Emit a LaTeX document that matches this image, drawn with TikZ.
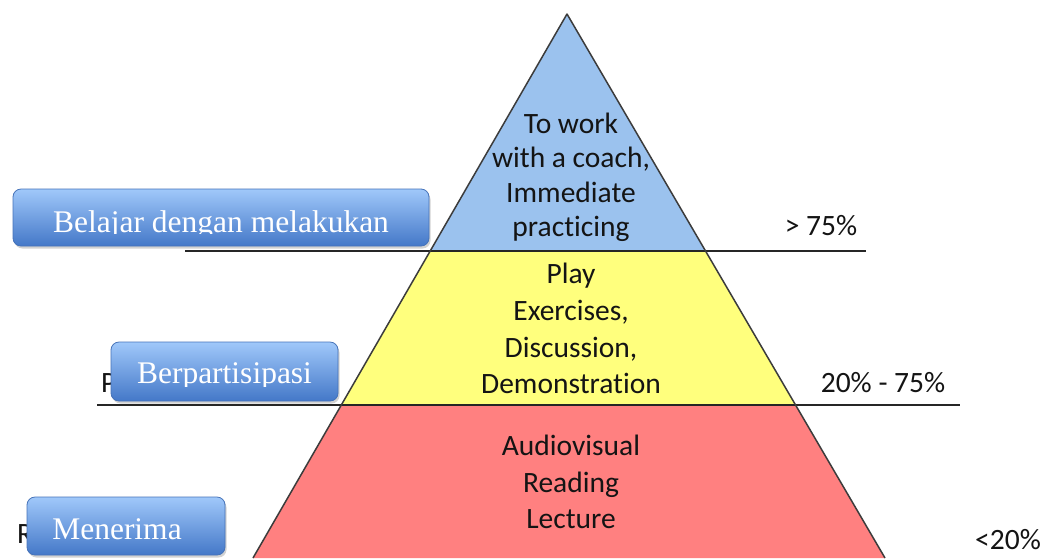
\documentclass[tikz,border=0pt]{standalone}
\usepackage{fontspec}
\setmainfont{Liberation Serif}
\newfontfamily\calfont[Ligatures={NoCommon}]{Carlito}
\usetikzlibrary{calc,shadows}
\definecolor{pblue}{RGB}{155,194,238}
\definecolor{pyellow}{RGB}{255,255,125}
\definecolor{pred}{RGB}{255,128,128}
\definecolor{btop}{RGB}{160,200,250}
\definecolor{bbot}{RGB}{68,120,200}
\definecolor{bedge}{RGB}{70,115,185}
\definecolor{edge}{RGB}{60,60,60}
\begin{document}
\begin{tikzpicture}[x=1pt,y=-1pt,
 pyr/.style={draw=edge, line width=1.5pt, line join=round},
 lvl/.style={font=\calfont\fontsize{29.5}{30}\selectfont, anchor=base, inner sep=0pt, text=black!92},
 tag/.style={rounded corners=8pt, draw=bedge, line width=0.8pt, top color=btop, bottom color=bbot, inner sep=0pt,
   drop shadow={opacity=0.35,shadow xshift=1.5pt,shadow yshift=-2.5pt}},
 tagtext/.style={font=\fontsize{31.5}{32}\selectfont, text=white, anchor=base, inner sep=0pt},
 rule/.style={line width=1.8pt, draw=black!85}
]
\fill[white] (0,0) rectangle (1045,558);
\useasboundingbox (0,0) rectangle (1045,558);

% pyramid geometry
\coordinate (A) at (567,14);
\coordinate (BL) at (253,558);
\coordinate (BR) at (885,558);
\coordinate (L1) at ($(A)!0.4357!(BL)$);
\coordinate (R1) at ($(A)!0.4357!(BR)$);
\coordinate (L2) at ($(A)!0.7188!(BL)$);
\coordinate (R2) at ($(A)!0.7188!(BR)$);

\fill[pred] (L2) -- (BL) -- (BR) -- (R2) -- cycle;
\fill[pyellow] (L1) -- (L2) -- (R2) -- (R1) -- cycle;
\fill[pblue] (A) -- (L1) -- (R1) -- cycle;

% horizontal rules
\coordinate (h1a) at (185,251);
\coordinate (h1b) at (866,251);
\coordinate (h2a) at (97,405);
\coordinate (h2b) at (960,405);
\draw[rule] (h1a) -- (h1b);
\draw[rule] (h2a) -- (h2b);

\draw[pyr] (BL) -- (A) -- (BR);

% level texts
\node[lvl] (t1) at (571,133) {To work};
\node[lvl] (t2) at (571,167.5) {with a coach,};
\node[lvl] (t3) at (571,202) {Immediate};
\node[lvl] (t4) at (571,236.5) {practicing};

\node[lvl] (y1) at (571,283) {Play};
\node[lvl] (y2) at (571,320) {Exercises,};
\node[lvl] (y3) at (571,357) {Discussion,};
\node[lvl] (y4) at (571,393) {Demonstration};

\node[lvl] (r1) at (571,455) {Audiovisual};
\node[lvl] (r2) at (571,492) {Reading};
\node[lvl] (r3) at (571,528) {Lecture};

% percentages
\node[lvl] (p1) at (821,235) {> 75\%};
\node[lvl] (p2) at (883,392) {20\% - 75\%};
\node[lvl] (p3) at (1008,549) {<20\%};

% hidden left texts (mostly covered)
\node[lvl, anchor=base west] (hp) at (101,392) {P};
\node[lvl, anchor=base west] (hr) at (17,543) {R};

% blue tags
\node[tag, minimum width=416pt, minimum height=57pt] (b1) at (221,217.5) {};
\node[tag, minimum width=227pt, minimum height=59pt] (b2) at (224.5,371.5) {};
\node[tag, minimum width=198pt, minimum height=58pt] (b3) at (126,526) {};

\begin{scope}
\clip (13,189) rectangle (429,233.5);
\node[tagtext] (l1) at (221,232) {Belajar dengan melakukan};
\end{scope}
\begin{scope}
\clip (111,342) rectangle (338,386);
\node[tagtext] (l2) at (224.5,383) {Berpartisipasi};
\end{scope}
\node[tagtext] (l3) at (117,539) {Menerima};
\end{tikzpicture}
\end{document}
